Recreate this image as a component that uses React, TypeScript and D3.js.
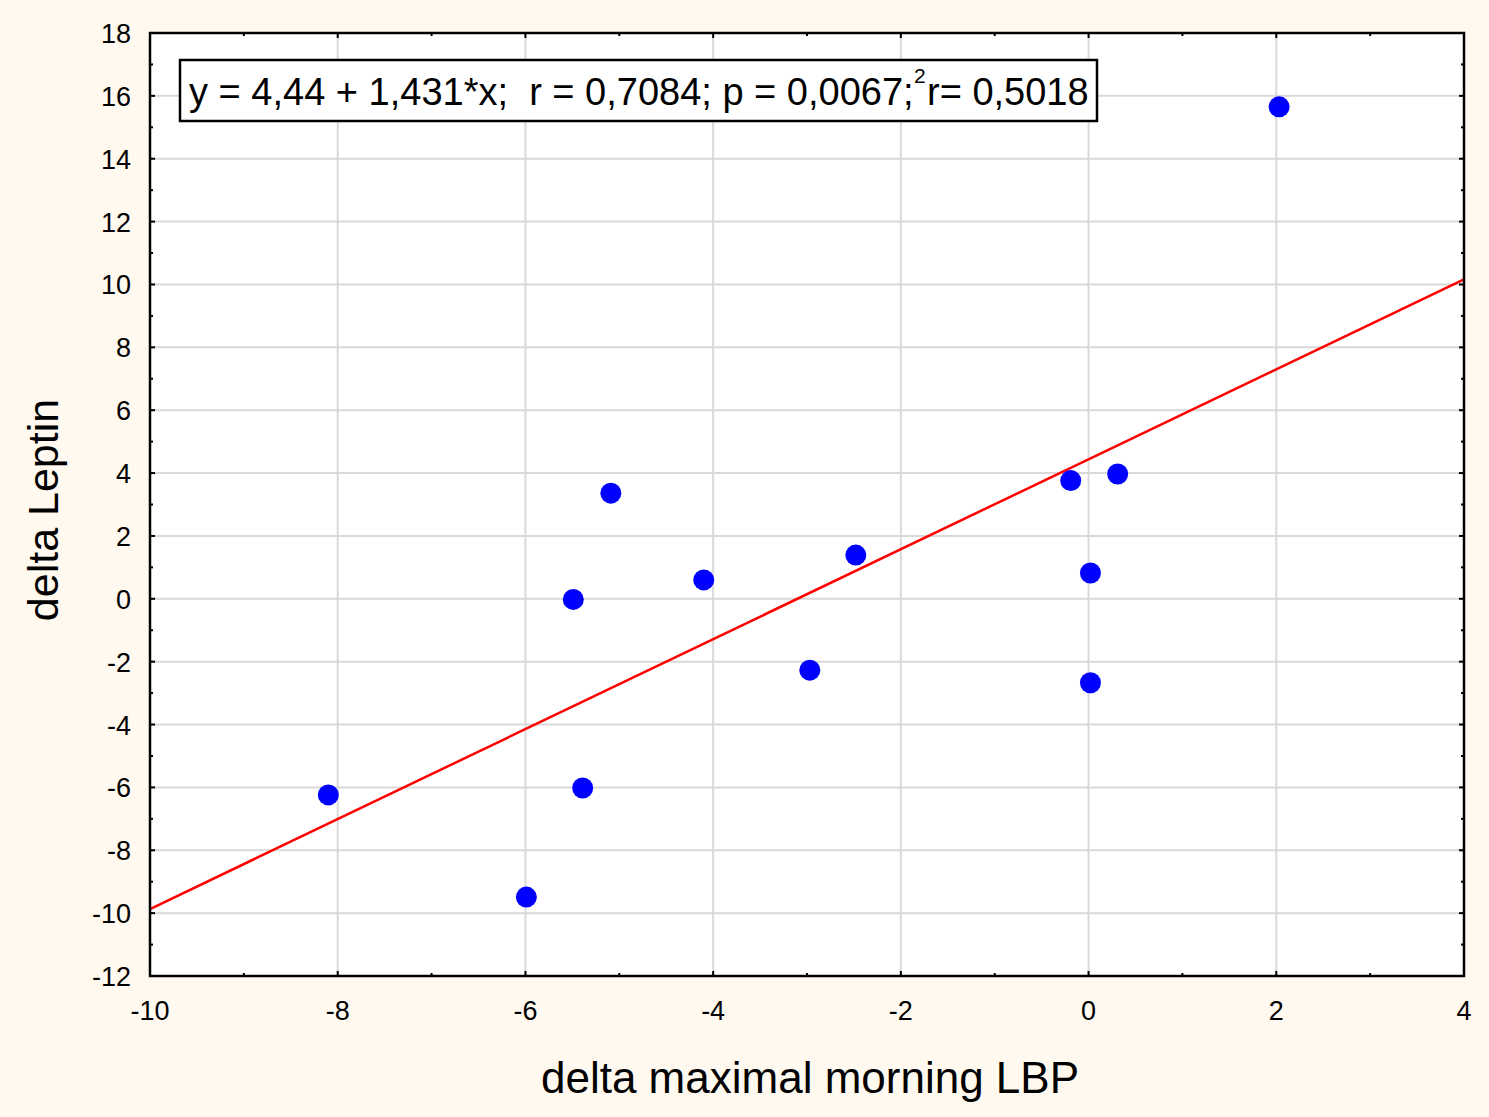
import React from "react";
import * as d3 from "d3";

const xValues = [2.03, 0.31, -0.19, 0.02, 0.02, -2.48, -2.97, -4.1, -5.09, -5.49, -5.39, -5.99, -8.1];
const yValues = [15.65, 3.97, 3.76, 0.82, -2.67, 1.39, -2.27, 0.6, 3.36, -0.02, -6.02, -9.49, -6.24];
const xTicks = [-10, -8, -6, -4, -2, 0, 2, 4];
const yTicks = [-12, -10, -8, -6, -4, -2, 0, 2, 4, 6, 8, 10, 12, 14, 16, 18];
const xMinor = [-9, -7, -5, -3, -1, 1, 3];
const yMinor = [-11, -9, -7, -5, -3, -1, 1, 3, 5, 7, 9, 11, 13, 15, 17];
const intercept = 4.44;
const slope = 1.431;
const statsText = "y = 4,44 + 1,431*x;  r = 0,7084; p = 0,0067;";
const r2Text = "r= 0,5018";
const xTitle = "delta maximal morning LBP";
const yTitle = "delta Leptin";

const W = 1489, H = 1117;
const L = 150, R = 1464, T = 33, B = 976;
const font = "'Liberation Sans', Arial, sans-serif";

export default function App() {
  const x = d3.scaleLinear().domain([-10, 4]).range([L, R]);
  const y = d3.scaleLinear().domain([-12, 18]).range([B, T]);
  const line = d3.line<number>().x((d) => x(d)).y((d) => y(intercept + slope * d));
  const pts = xValues.map((v, i) => [v, yValues[i]]);
  return (
    <div style={{ position: "absolute", left: 0, top: 0 }}>
      <svg width={W} height={H} style={{ display: "block" }}>
        <rect x={0} y={0} width={W} height={H} fill="#FFF9EF" />
        <rect x={L} y={T} width={R - L} height={B - T} fill="#FFFFFF" />
        {/* grid */}
        {xTicks.slice(1, -1).map((t) => (
          <line key={"gx" + t} x1={x(t)} x2={x(t)} y1={T} y2={B} stroke="#D9D9D9" strokeWidth={2} />
        ))}
        {yTicks.slice(1, -1).map((t) => (
          <line key={"gy" + t} x1={L} x2={R} y1={y(t)} y2={y(t)} stroke="#D9D9D9" strokeWidth={2} />
        ))}
        {/* regression line */}
        <path d={line([-10, 4]) || ""} stroke="#FF0000" strokeWidth={2.5} fill="none" />
        {/* points */}
        {pts.map((p, i) => (
          <circle key={i} cx={x(p[0])} cy={y(p[1])} r={10.5} fill="#0000FF" />
        ))}
        {/* frame */}
        <rect x={L} y={T} width={R - L} height={B - T} fill="none" stroke="#000" strokeWidth={2.5} />
        {/* ticks */}
        {xTicks.map((t) => (
          <g key={"tx" + t}>
            <line x1={x(t)} x2={x(t)} y1={B} y2={B - 5} stroke="#000" strokeWidth={2} />
            <line x1={x(t)} x2={x(t)} y1={T} y2={T + 5} stroke="#000" strokeWidth={2} />
            <text x={x(t)} y={1020} textAnchor="middle" fontFamily={font} fontSize={27} fill="#000">{t}</text>
          </g>
        ))}
        {xMinor.map((t) => (
          <g key={"mx" + t}>
            <line x1={x(t)} x2={x(t)} y1={B} y2={B - 3} stroke="#000" strokeWidth={2} />
            <line x1={x(t)} x2={x(t)} y1={T} y2={T + 3} stroke="#000" strokeWidth={2} />
          </g>
        ))}
        {yTicks.map((t) => (
          <g key={"ty" + t}>
            <line x1={L} x2={L + 5} y1={y(t)} y2={y(t)} stroke="#000" strokeWidth={2} />
            <line x1={R} x2={R - 5} y1={y(t)} y2={y(t)} stroke="#000" strokeWidth={2} />
            <text x={131} y={y(t) + 10} textAnchor="end" fontFamily={font} fontSize={27} fill="#000">{t}</text>
          </g>
        ))}
        {yMinor.map((t) => (
          <g key={"my" + t}>
            <line x1={L} x2={L + 3} y1={y(t)} y2={y(t)} stroke="#000" strokeWidth={2} />
            <line x1={R} x2={R - 3} y1={y(t)} y2={y(t)} stroke="#000" strokeWidth={2} />
          </g>
        ))}
        {/* stats box */}
        <rect x={180} y={60} width={917} height={61} fill="#FFFFFF" stroke="#000" strokeWidth={2.5} />
        <text x={189} y={105} fontFamily={font} fontSize={38} fill="#000" xmlSpace="preserve" style={{ whiteSpace: "pre" }}>{statsText}</text>
        <text x={914} y={83} fontFamily={font} fontSize={21} fill="#000">2</text>
        <text x={927} y={105} fontFamily={font} fontSize={38} fill="#000">{r2Text}</text>
        {/* titles */}
        <text x={810} y={1093} textAnchor="middle" fontFamily={font} fontSize={44} fill="#000">{xTitle}</text>
        <text transform={`translate(58,510) rotate(-90)`} textAnchor="middle" fontFamily={font} fontSize={43} fill="#000">{yTitle}</text>
      </svg>
    </div>
  );
}
